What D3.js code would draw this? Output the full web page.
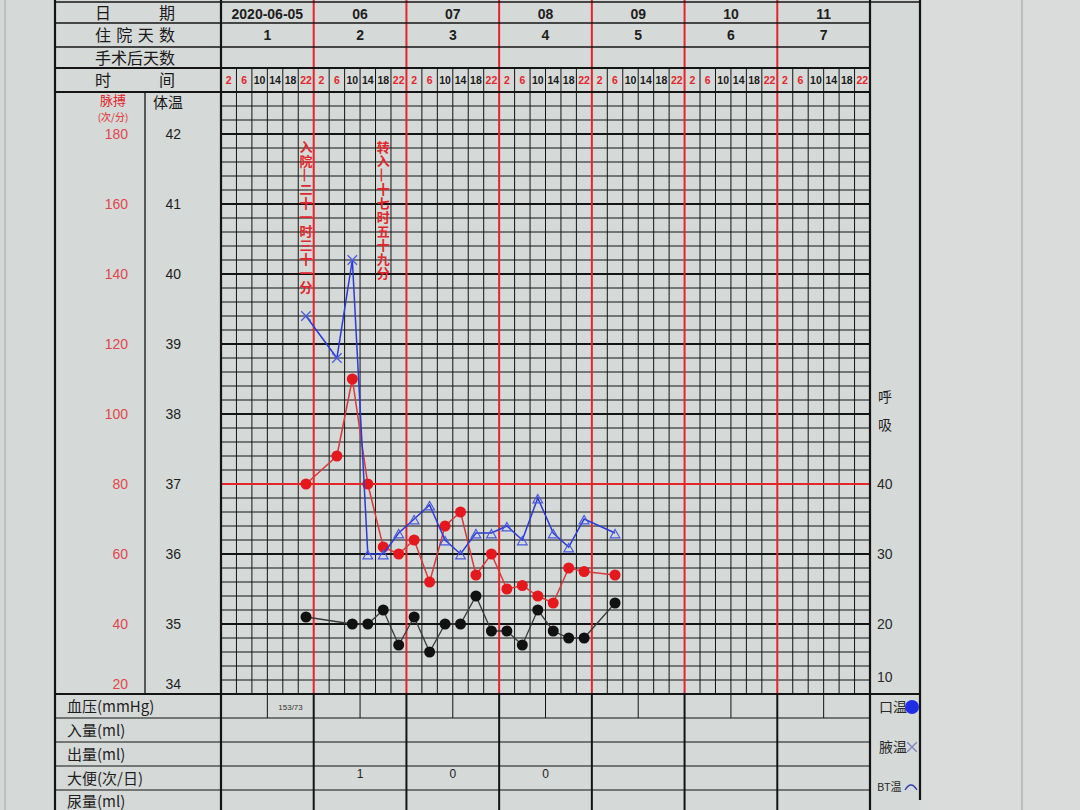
<!DOCTYPE html>
<html><head><meta charset="utf-8">
<script src="https://cdn.jsdelivr.net/npm/d3@7"></script>
<style>
body{margin:0;background:#d5d9d7;}
svg{display:block;}
text{font-family:"Liberation Sans","Noto Sans CJK SC",sans-serif;}
.cjk{font-family:"Noto Sans CJK SC",sans-serif;}
</style>
</head><body>
<svg id="c" width="1080" height="810"></svg>
<script>
// ---------- data ----------
const dayDates = ['2020-06-05','06','07','08','09','10','11'];
const hospitalDays = ['1','2','3','4','5','6','7'];
const timeLabels = ['2','6','10','14','18','22'];
const redTimes = ['2','6','22'];
const pulseTicks = [180,160,140,120,100,80,60,40,20];
const tempTicks = [42,41,40,39,38,37,36,35,34];
const respTicks = [40,30,20,10];

// slot = day*6 + time index
const vitalSlots = [5,7,8,9,10,11,12,13,14,15,16,17,18,19,20,21,22,23,25];
const temperature = [39.4,38.8,40.2,36.0,36.0,36.3,36.5,36.7,36.2,36.0,36.3,36.3,36.4,36.2,36.8,36.3,36.1,36.5,36.3];
const tempMethod = ['腋温','腋温','腋温','耳温','耳温','耳温','耳温','耳温','耳温','耳温','耳温','耳温','耳温','耳温','耳温','耳温','耳温','耳温','耳温'];
const pulse = [80,88,110,80,62,60,64,52,68,72,54,60,50,51,48,46,56,55,54];
const respSlots = [5,8,9,10,11,12,13,14,15,16,17,18,19,20,21,22,23,25];
const respiration = [21,20,20,22,17,21,16,20,20,24,19,19,17,22,19,18,18,23];

const eventSlots = [5,10];
const eventTexts = ['入院—二十一时三十一分','转入—十七时五十九分'];

const bottomRows = ['血压(mmHg)','入量(ml)','出量(ml)','大便(次/日)','尿量(ml)'];
const bpHalfDays = [1];
const bpValues = ['153/73'];
const stoolDays = [1,2,3];
const stoolValues = ['1','0','0'];
const legendNames = ['口温','腋温','BT温'];

// ---------- layout ----------
const svg = d3.select('#c');
const L = 55, GX0 = 221, GX1 = 870, RX = 920;
const hdrY = [2,23,47,68,92];
const PB = 694;               // plot bottom
const rowY = [694,718,742,766,790,812];
const black = '#141414', red = '#e3262b', blue = '#2b3bd6';

const x = d3.scaleLinear().domain([0,42]).range([GX0,GX1]);
const xs = s => x(s + 0.5);
const yT = d3.scaleLinear().domain([34,42]).range([PB,134]);
const yP = d3.scaleLinear().domain([20,180]).range([PB,134]);
const yR = d3.scaleLinear().domain([10,40]).range([PB,yT(37)]);

svg.append('rect').attr('width',1080).attr('height',810).attr('fill','#d5d9d7');
svg.append('rect').attr('x',RX).attr('width',160).attr('height',810).attr('fill','#d9dcda');
svg.append('line').attr('x1',1022).attr('x2',1022).attr('y1',0).attr('y2',810).attr('stroke','#9a9e9c').attr('stroke-width',1);
svg.append('line').attr('x1',5).attr('x2',5).attr('y1',0).attr('y2',810).attr('stroke','#a5a9a7').attr('stroke-width',1);

// horizontal grid (0.2 degree)
const hLines = d3.range(0,44).map(i => +(34 + i*0.2).toFixed(1)).filter(v => v <= 42.6);
svg.append('g').selectAll('line').data(hLines).join('line')
  .attr('x1',GX0).attr('x2',GX1)
  .attr('y1',d=>yT(d)).attr('y2',d=>yT(d))
  .attr('stroke',d=> d===37 ? red : black)
  .attr('stroke-width',d=> Number.isInteger(d) ? 2 : 1);

// vertical column lines
const cols = d3.range(1,42);
svg.append('g').selectAll('line').data(cols.filter(i=>i%6!==0)).join('line')
  .attr('x1',d=>x(d)).attr('x2',d=>x(d)).attr('y1',hdrY[3]).attr('y2',PB)
  .attr('stroke',black).attr('stroke-width',1);
// day boundaries red
svg.append('g').selectAll('line').data(cols.filter(i=>i%6===0)).join('line')
  .attr('x1',d=>x(d)).attr('x2',d=>x(d)).attr('y1',0).attr('y2',PB)
  .attr('stroke',red).attr('stroke-width',2);
// 37 red line on top of columns
svg.append('line').attr('x1',GX0).attr('x2',GX1).attr('y1',yT(37)).attr('y2',yT(37)).attr('stroke',red).attr('stroke-width',2);

// header horizontal lines
svg.append('g').selectAll('line').data(hdrY).join('line')
  .attr('x1',L).attr('x2',GX1).attr('y1',d=>d).attr('y2',d=>d)
  .attr('stroke',black).attr('stroke-width',(d,i)=> i>=3 ? 2 : 1.3);
svg.append('line').attr('x1',GX1).attr('x2',RX).attr('y1',2).attr('y2',2).attr('stroke',black).attr('stroke-width',1.5);

// bottom table
svg.append('g').selectAll('line').data(rowY.slice(0,5)).join('line')
  .attr('x1',L).attr('x2',GX1).attr('y1',d=>d).attr('y2',d=>d)
  .attr('stroke',black).attr('stroke-width',(d,i)=> i===0 ? 2.2 : 1.2);
svg.append('line').attr('x1',GX1).attr('x2',RX).attr('y1',PB).attr('y2',PB).attr('stroke',black).attr('stroke-width',2);
svg.append('g').selectAll('line').data(d3.range(1,7)).join('line')
  .attr('x1',d=>x(d*6)).attr('x2',d=>x(d*6)).attr('y1',PB).attr('y2',810)
  .attr('stroke',black).attr('stroke-width',2);
svg.append('g').selectAll('line').data(d3.range(0,7)).join('line')
  .attr('x1',d=>x(d*6+3)).attr('x2',d=>x(d*6+3)).attr('y1',PB).attr('y2',rowY[1])
  .attr('stroke',black).attr('stroke-width',1);

// main vertical borders
[[L,0,810,2.2],[145,hdrY[4],PB,1.3],[GX0,0,810,2.2],[GX1,0,810,2.2],[RX,0,800,2.2]].forEach(b=>{
  svg.append('line').attr('x1',b[0]).attr('x2',b[0]).attr('y1',b[1]).attr('y2',b[2]).attr('stroke',black).attr('stroke-width',b[3]);
});

// ---------- header text ----------
const hdrNames = ['日期','住院天数','手术后天数','时间'];
svg.append('g').selectAll('text').data(hdrNames).join('text')
  .attr('class','cjk').attr('x',95).attr('y',(d,i)=>(hdrY[i]+hdrY[i+1])/2+6)
  .attr('textLength',80).attr('lengthAdjust','spacing')
  .attr('font-size',16).attr('fill','#1a1a1a').text(d=>d);

svg.append('g').selectAll('text').data(dayDates).join('text')
  .attr('x',(d,i)=>x(i*6+3)).attr('y',19).attr('text-anchor','middle')
  .attr('font-size',14).attr('font-weight','bold').attr('fill','#1e1e1e').text(d=>d);
svg.append('g').selectAll('text').data(hospitalDays).join('text')
  .attr('x',(d,i)=>x(i*6+3)).attr('y',40).attr('text-anchor','middle')
  .attr('font-size',14).attr('font-weight','bold').attr('fill','#1e1e1e').text(d=>d);

const timeSlots = d3.range(0,42);
svg.append('g').selectAll('text').data(timeSlots).join('text')
  .attr('x',d=>xs(d)).attr('y',84).attr('text-anchor','middle')
  .attr('font-size',10.5).attr('font-weight','bold')
  .attr('fill',d=> redTimes.includes(timeLabels[d%6]) ? red : '#1a1a1a')
  .text(d=>timeLabels[d%6]);

// ---------- left axes ----------
svg.append('text').attr('class','cjk').attr('x',113).attr('y',105).attr('text-anchor','middle')
  .attr('font-size',13).attr('fill',red).text('脉搏');
svg.append('text').attr('class','cjk').attr('x',113).attr('y',121).attr('text-anchor','middle')
  .attr('font-size',10).attr('fill',red).text('(次/分)');
svg.append('text').attr('class','cjk').attr('x',168).attr('y',108).attr('text-anchor','middle')
  .attr('font-size',15).attr('fill','#1a1a1a').text('体温');

const ap = svg.append('g').attr('transform','translate(128,0)')
  .call(d3.axisLeft(yP).tickValues(pulseTicks).tickSize(0).tickPadding(0));
ap.select('.domain').remove();
ap.selectAll('text').attr('font-size',14).attr('fill','#e0474c').style('font-family','"Liberation Sans",sans-serif');
ap.selectAll('.tick').filter(d=>d===20).attr('transform',`translate(0,${yP(20)-9})`);

const at = svg.append('g').attr('transform','translate(181,0)')
  .call(d3.axisLeft(yT).tickValues(tempTicks).tickSize(0).tickPadding(0));
at.select('.domain').remove();
at.selectAll('text').attr('font-size',14).attr('fill','#1e1e1e').style('font-family','"Liberation Sans",sans-serif');
at.selectAll('.tick').filter(d=>d===34).attr('transform',`translate(0,${yT(34)-9})`);

// ---------- right respiration axis ----------
svg.append('text').attr('class','cjk').attr('x',878).attr('y',402).attr('font-size',14).attr('fill','#1e1e1e').text('呼');
svg.append('text').attr('class','cjk').attr('x',878).attr('y',430).attr('font-size',14).attr('fill','#1e1e1e').text('吸');
const ar = svg.append('g').attr('transform','translate(877,0)')
  .call(d3.axisRight(yR).tickValues(respTicks).tickSize(0).tickPadding(0));
ar.select('.domain').remove();
ar.selectAll('text').attr('font-size',14).attr('fill','#2a2a2a').style('font-family','"Liberation Sans",sans-serif');
ar.selectAll('.tick').filter(d=>d===10).attr('transform',`translate(0,${yR(10)-16})`);

// legend
svg.append('g').selectAll('text').data(legendNames).join('text')
  .attr('class','cjk').attr('x',(d,i)=> i===2 ? 877 : 879).attr('y',(d,i)=>[712,752,791][i])
  .attr('font-size',(d,i)=> i===2 ? 11 : 14).attr('fill','#2a2a2a').text(d=>d);
svg.append('circle').attr('cx',912).attr('cy',707).attr('r',7).attr('fill','#1f2ee6');
svg.append('path').attr('d',d3.symbol(d3.symbolX,60)()).attr('transform','translate(912,747)')
  .attr('stroke','#7a80c0').attr('stroke-width',1.3).attr('fill','none');
svg.append('path').attr('d','M905,790 Q911,780 917,790').attr('stroke','#3540b0').attr('stroke-width',1.3).attr('fill','none');

// ---------- bottom table text ----------
svg.append('g').selectAll('text').data(bottomRows).join('text')
  .attr('class','cjk').attr('x',67).attr('y',(d,i)=>(rowY[i]+rowY[i+1])/2+6)
  .attr('font-size',15).attr('fill','#1e1e1e').text(d=>d);
svg.append('g').selectAll('text').data(bpValues).join('text')
  .attr('x',(d,i)=>x(bpHalfDays[i]*3+1.5)).attr('y',710).attr('text-anchor','middle')
  .attr('font-size',8).attr('fill','#333').text(d=>d);
svg.append('g').selectAll('text').data(stoolValues).join('text')
  .attr('x',(d,i)=>x(stoolDays[i]*6+3)).attr('y',778).attr('text-anchor','middle')
  .attr('font-size',12).attr('fill','#222').text(d=>d);

// ---------- event annotations ----------
eventTexts.forEach((t,k)=>{
  const g = svg.append('g').attr('class','cjk');
  Array.from(t).forEach((ch,i)=>{
    const cx = xs(eventSlots[k]), cy = 147 + i*14;
    g.append('text').attr('x',cx).attr('y',cy+5).attr('text-anchor','middle')
      .attr('font-size',13).attr('font-weight','bold').attr('fill',red)
      .attr('transform', ch==='—' ? `rotate(90,${cx},${cy})` : null)
      .text(ch);
  });
});

// ---------- series ----------
const tempPts = vitalSlots.map((s,i)=>({s, v:temperature[i], m:tempMethod[i]}));
const pulsePts = vitalSlots.map((s,i)=>({s, v:pulse[i]}));
const respPts = respSlots.map((s,i)=>({s, v:respiration[i]}));

svg.append('path').datum(respPts)
  .attr('d',d3.line().x(d=>xs(d.s)).y(d=>yR(d.v)))
  .attr('fill','none').attr('stroke','#3a3a3a').attr('stroke-width',1.3);
svg.append('g').selectAll('circle').data(respPts).join('circle')
  .attr('cx',d=>xs(d.s)).attr('cy',d=>yR(d.v)).attr('r',5.5).attr('fill','#111');

svg.append('path').datum(pulsePts)
  .attr('d',d3.line().x(d=>xs(d.s)).y(d=>yP(d.v)))
  .attr('fill','none').attr('stroke','#d63a3a').attr('stroke-width',1.5);
svg.append('g').selectAll('circle').data(pulsePts).join('circle')
  .attr('cx',d=>xs(d.s)).attr('cy',d=>yP(d.v)).attr('r',5.5).attr('fill','#e5181d');

svg.append('path').datum(tempPts)
  .attr('d',d3.line().x(d=>xs(d.s)).y(d=>yT(d.v)))
  .attr('fill','none').attr('stroke',blue).attr('stroke-width',1.5);
svg.append('g').selectAll('path').data(tempPts).join('path')
  .attr('d',d=> d.m==='腋温' ? d3.symbol(d3.symbolX,60)() : d3.symbol(d3.symbolTriangle,40)())
  .attr('transform',d=>`translate(${xs(d.s)},${yT(d.v)+(d.m==='腋温'?0:2)})`)
  .attr('fill','none').attr('stroke','#4a58e0').attr('stroke-width',1.2);
</script>
</body></html>
